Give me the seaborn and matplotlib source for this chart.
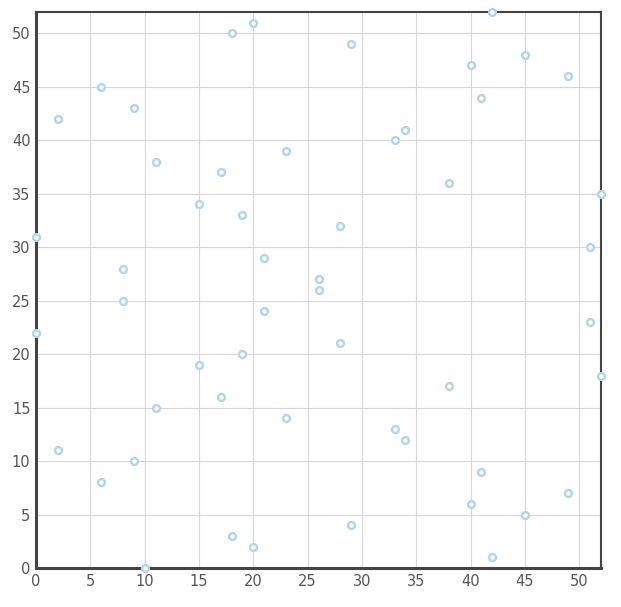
import pandas as pd
import matplotlib
matplotlib.use("Agg")
import matplotlib.pyplot as plt
import seaborn as sns

# points, one per y value (0..52)
x_vals = [10, 42, 20, 18, 29, 45, 40, 49, 6, 41, 9, 2, 34, 33, 23, 11, 17, 38,
          52, 15, 19, 28, 0, 51, 21, 8, 26, 26, 8, 21, 51, 0, 28, 19, 15, 52,
          38, 17, 11, 23, 33, 34, 2, 9, 41, 6, 49, 40, 45, 29, 18, 20, 42]
y_vals = [0, 1, 2, 3, 4, 5, 6, 7, 8, 9, 10, 11, 12, 13, 14, 15, 16, 17,
          18, 19, 20, 21, 22, 23, 24, 25, 26, 27, 28, 29, 30, 31, 32, 33, 34, 35,
          36, 37, 38, 39, 40, 41, 42, 43, 44, 45, 46, 47, 48, 49, 50, 51, 52]
ticks = [0, 5, 10, 15, 20, 25, 30, 35, 40, 45, 50]

df = pd.DataFrame({"x": x_vals, "y": y_vals})

sns.set_style("white")
plt.rcParams['font.family'] = ['DejaVu Sans']

fig = plt.figure(figsize=(6.21, 6.07), dpi=100)
ax = fig.add_axes([36 / 621, 39 / 607, 565 / 621, 556 / 607])

sns.scatterplot(data=df, x="x", y="y", ax=ax, s=24, marker="o",
                facecolor="white", edgecolor="#b0d3ee", linewidth=1.7,
                zorder=5, clip_on=False)

ax.set_xlim(0, 52)
ax.set_ylim(0, 52)
ax.set_xticks(ticks)
ax.set_yticks(ticks)
ax.grid(True, color="#d6d6d6", linewidth=0.8)
ax.set_axisbelow(True)
ax.set_xlabel("")
ax.set_ylabel("")
ax.tick_params(length=0, labelsize=10.5, labelcolor="#555555", pad=4)

for side in ["left", "bottom"]:
    ax.spines[side].set_color("#444444")
    ax.spines[side].set_linewidth(2.2)
for side in ["top", "right"]:
    ax.spines[side].set_color("#444444")
    ax.spines[side].set_linewidth(1.5)

plt.savefig("out.png", dpi=100)
